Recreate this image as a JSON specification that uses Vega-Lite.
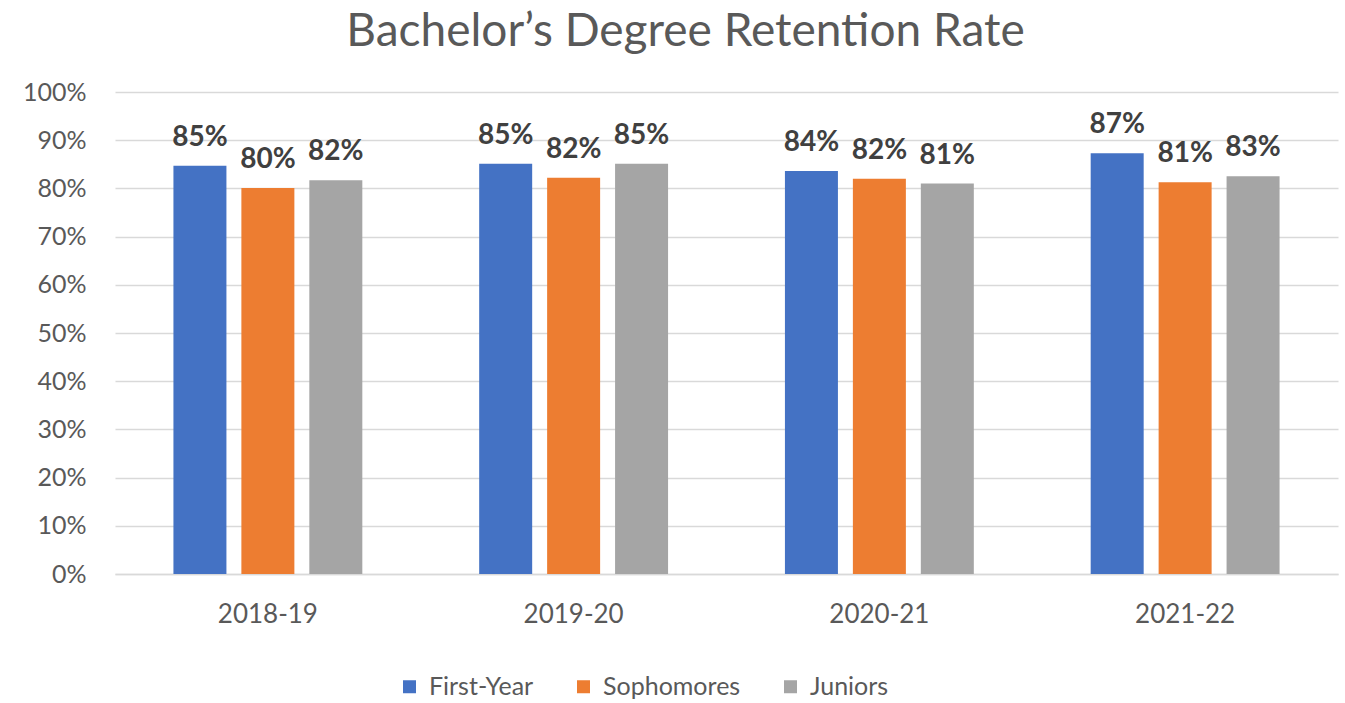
{
  "$schema": "https://vega.github.io/schema/vega-lite/v6.json",
  "width": 1223,
  "height": 482,
  "autosize": "none",
  "padding": {"left": 115, "top": 92, "right": 7, "bottom": 129},
  "background": "white",
  "config": {"view": {"stroke": null}},
  "title": {
    "text": "Bachelor’s Degree Retention Rate",
    "font": "Lato",
    "fontSize": 46,
    "fontWeight": "normal",
    "color": "#595959",
    "anchor": "middle",
    "dx": -41,
    "offset": 24
  },
  "data": {
    "values": [
      {"year": "2018-19", "group": "First-Year", "rate": 0.847},
      {"year": "2018-19", "group": "Sophomores", "rate": 0.801},
      {"year": "2018-19", "group": "Juniors", "rate": 0.817},
      {"year": "2019-20", "group": "First-Year", "rate": 0.851},
      {"year": "2019-20", "group": "Sophomores", "rate": 0.822},
      {"year": "2019-20", "group": "Juniors", "rate": 0.851},
      {"year": "2020-21", "group": "First-Year", "rate": 0.836},
      {"year": "2020-21", "group": "Sophomores", "rate": 0.820},
      {"year": "2020-21", "group": "Juniors", "rate": 0.810},
      {"year": "2021-22", "group": "First-Year", "rate": 0.873},
      {"year": "2021-22", "group": "Sophomores", "rate": 0.813},
      {"year": "2021-22", "group": "Juniors", "rate": 0.825}
    ]
  },
  "encoding": {
    "x": {
      "field": "year",
      "type": "nominal",
      "scale": {"paddingInner": 0, "paddingOuter": 0},
      "axis": {
        "title": null,
        "labelAngle": 0,
        "labelFont": "Lato",
        "labelFontSize": 26,
        "labelColor": "#595959",
        "labelPadding": 27,
        "ticks": false,
        "domainColor": "#d9d9d9",
        "domainWidth": 1.5
      }
    },
    "xOffset": {
      "field": "group",
      "type": "nominal",
      "sort": ["First-Year", "Sophomores", "Juniors"],
      "scale": {"paddingInner": 0.22, "paddingOuter": 0.86}
    },
    "y": {
      "field": "rate",
      "type": "quantitative",
      "scale": {"domain": [0, 1], "nice": false},
      "axis": {
        "title": null,
        "format": ".0%",
        "values": [0, 0.1, 0.2, 0.3, 0.4, 0.5, 0.6, 0.7, 0.8, 0.9, 1],
        "labelOverlap": false,
        "labelFont": "Lato",
        "labelFontSize": 25,
        "labelColor": "#595959",
        "labelPadding": 29,
        "ticks": false,
        "domain": false,
        "gridColor": "#d9d9d9",
        "gridWidth": 1.5
      }
    }
  },
  "layer": [
    {
      "mark": {"type": "bar"},
      "encoding": {
        "color": {
          "field": "group",
          "type": "nominal",
          "sort": ["First-Year", "Sophomores", "Juniors"],
          "scale": {
            "domain": ["First-Year", "Sophomores", "Juniors"],
            "range": ["#4472C4", "#ED7D31", "#A5A5A5"]
          },
          "legend": {
            "title": null,
            "orient": "none",
            "legendX": 282,
            "legendY": 582,
            "direction": "horizontal",
            "symbolType": "square",
            "symbolSize": 169,
            "symbolStrokeWidth": 0,
            "labelFont": "Lato",
            "labelFontSize": 25,
            "labelColor": "#595959",
            "labelOffset": 7,
            "columnPadding": 37,
            "padding": 0
          }
        }
      }
    },
    {
      "mark": {
        "type": "text",
        "baseline": "alphabetic",
        "dy": -20,
        "font": "Lato",
        "fontSize": 28,
        "fontWeight": "bold",
        "color": "#404040"
      },
      "encoding": {
        "text": {"field": "rate", "type": "quantitative", "format": ".0%"}
      }
    }
  ]
}
